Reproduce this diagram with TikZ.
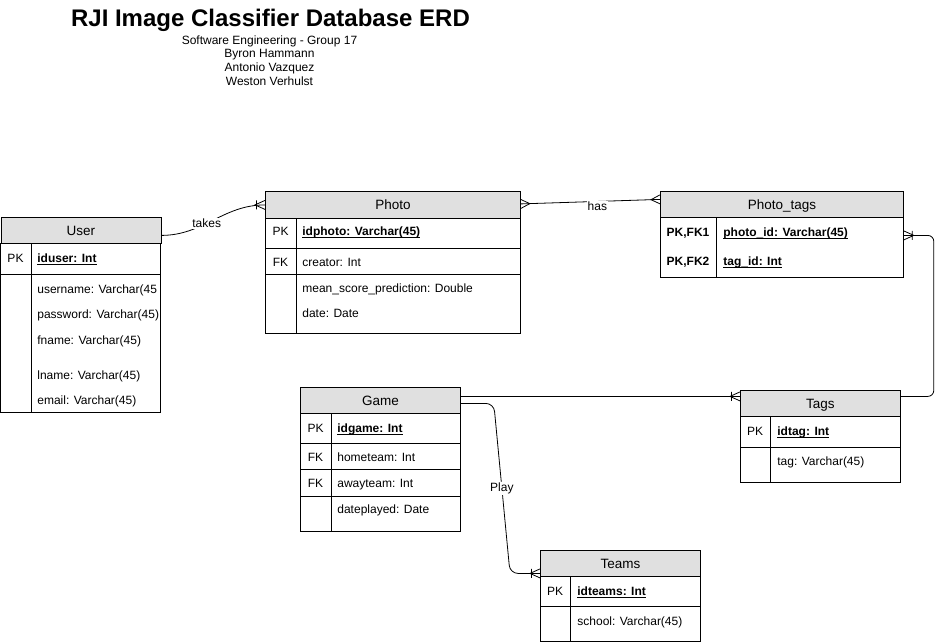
\documentclass[tikz,border=0pt]{standalone}
\usepackage{fontspec}
\setmainfont{Liberation Sans}

\definecolor{headgray}{RGB}{224,224,224}
\def\fs{\fontsize{12}{14}\selectfont}
\def\ul#1{\underline{\smash{#1}}}

% crow's foot ends of the relations
\pgfdeclarearrow{
  name = Crow,
  setup code = {
    \pgfarrowssettipend{0pt}
    \pgfarrowssetlineend{0pt}
    \pgfarrowssetbackend{-9pt}
    \pgfarrowsupperhullpoint{0pt}{4.5pt}
    \pgfarrowsupperhullpoint{-9pt}{0pt}
  },
  drawing code = {
    \pgfpathmoveto{\pgfpoint{0pt}{4.5pt}}
    \pgfpathlineto{\pgfpoint{-9pt}{0pt}}
    \pgfpathlineto{\pgfpoint{0pt}{-4.5pt}}
    \pgfusepathqstroke
  }
}
\pgfdeclarearrow{
  name = CrowOne,
  setup code = {
    \pgfarrowssettipend{0pt}
    \pgfarrowssetlineend{0pt}
    \pgfarrowssetbackend{-10pt}
    \pgfarrowsupperhullpoint{0pt}{4.5pt}
    \pgfarrowsupperhullpoint{-10pt}{4.5pt}
  },
  drawing code = {
    \pgfpathmoveto{\pgfpoint{0pt}{4.5pt}}
    \pgfpathlineto{\pgfpoint{-10pt}{0pt}}
    \pgfpathlineto{\pgfpoint{0pt}{-4.5pt}}
    \pgfpathmoveto{\pgfpoint{-8.5pt}{4.5pt}}
    \pgfpathlineto{\pgfpoint{-8.5pt}{-4.5pt}}
    \pgfusepathqstroke
  }
}

\begin{document}
\begin{tikzpicture}[x=1pt,y=-1pt,line width=0.8pt,
  head/.style={draw,fill=headgray,anchor=north west,minimum height=26pt,inner sep=0pt,text height=9.5pt,text depth=0pt,font=\fontsize{13.5}{16}\selectfont},
  key/.style={inner sep=0pt,text height=9pt,text depth=0pt,font=\fs},
  field/.style={anchor=west,inner sep=0pt,text height=9pt,text depth=0pt,font=\fs},
  pkfield/.style={field,font=\fs\bfseries},
  rel/.style={draw},
  lbl/.style={fill=white,inner sep=1pt,font=\fs}]
  \useasboundingbox (0,0) rectangle (942,643);

  \node[font=\fontsize{24}{28}\selectfont\bfseries] (title) at (270.5,20) {RJI Image Classifier Database ERD};
  \node[font=\fontsize{12}{13.7}\selectfont,align=center] (group) at (269.5,60.5) {Software Engineering - Group 17\\Byron Hammann\\Antonio Vazquez\\Weston Verhulst};

  % User
  \node[head,minimum width=160pt] (user) at (0.5,217) {User};
  \draw (user.south west) rectangle (160.5,412) (31,243) -- (31,412) (0.5,274) -- (160.5,274);
  \node[key] (user pk) at (15.5,258) {PK};
  \node[pkfield] (user id) at (37,258) {\ul{iduser: Int}};
  \node[field] (user name) at (37,289) {username: Varchar(45};
  \node[field] (user pass) at (37,314) {password: Varchar(45)};
  \node[field] (user fname) at (37,340) {fname: Varchar(45)};
  \node[field] (user lname) at (37,375) {lname: Varchar(45)};
  \node[field] (user mail) at (37,400) {email: Varchar(45)};

  % Photo
  \node[head,minimum width=255pt,minimum height=27pt] (photo) at (265,191) {Photo};
  \draw (photo.south west) rectangle (520,333) (296,218) -- (296,333) (265,248) -- (520,248) (265,274) -- (520,274);
  \node[key] (photo pk) at (280.5,231) {PK};
  \node[key] (photo fk) at (280.5,262) {FK};
  \node[pkfield] (photo id) at (302,231) {\ul{idphoto: Varchar(45)}};
  \node[field] (photo creator) at (302,262) {creator: Int};
  \node[field] (photo score) at (302,288) {mean\_score\_prediction: Double};
  \node[field] (photo date) at (302,313) {date: Date};

  % Photo_tags
  \node[head,minimum width=243pt] (ptags) at (660,191) {Photo\_tags};
  \draw (ptags.south west) rectangle (903,277) (716,217) -- (716,277);
  \node[key,font=\fs\bfseries] (ptags k1) at (688,232) {PK,FK1};
  \node[key,font=\fs\bfseries] (ptags k2) at (688,261) {PK,FK2};
  \node[pkfield] (ptags photo) at (723,232) {\ul{photo\_id: Varchar(45)}};
  \node[pkfield] (ptags tag) at (723,261) {\ul{tag\_id: Int}};

  % Game
  \node[head,minimum width=160pt] (game) at (300,387) {Game};
  \draw (game.south west) rectangle (460,531) (331,413) -- (331,531) (300,443) -- (460,443) (300,469) -- (460,469) (300,496) -- (460,496);
  \node[key] (game pk) at (315.5,428) {PK};
  \node[key] (game fk1) at (315.5,457) {FK};
  \node[key] (game fk2) at (315.5,483) {FK};
  \node[pkfield] (game id) at (337,428) {\ul{idgame: Int}};
  \node[field] (game home) at (337,457) {hometeam: Int};
  \node[field] (game away) at (337,483) {awayteam: Int};
  \node[field] (game date) at (337,509) {dateplayed: Date};

  % Tags
  \node[head,minimum width=160pt] (tags) at (740,390) {Tags};
  \draw (tags.south west) rectangle (900,482) (770,416) -- (770,482) (740,447) -- (900,447);
  \node[key] (tags pk) at (755,431) {PK};
  \node[pkfield] (tags id) at (777,431) {\ul{idtag: Int}};
  \node[field] (tags tag) at (777,461) {tag: Varchar(45)};

  % Teams
  \node[head,minimum width=160pt] (teams) at (540,550) {Teams};
  \draw (teams.south west) rectangle (700,641) (570,576) -- (570,641) (540,606) -- (700,606);
  \node[key] (teams pk) at (555,591) {PK};
  \node[pkfield] (teams id) at (577,591) {\ul{idteams: Int}};
  \node[field] (teams school) at (577,621) {school: Varchar(45)};

  % relations
  \draw[rel,-CrowOne] ([yshift=-5pt]user.east) to[out=0,in=180] node[lbl,pos=.43]{takes} (photo.west);
  \draw[rel,Crow-Crow] ([yshift=1pt]photo.east) -- node[lbl,pos=.55,yshift=-5pt]{has} ([yshift=5pt]ptags.west);
  \draw[rel,CrowOne-,rounded corners=6pt] ([yshift=-31pt]ptags.east) -- ++(30,0) |- ([yshift=7pt]tags.east);
  \draw[rel,-CrowOne] ([yshift=4pt]game.east) -- ([yshift=7pt]tags.west);
  \draw[rel,-CrowOne,rounded corners=8pt] ([yshift=-3pt]game.east) -- ++(33,0) -- node[lbl]{Play} ([xshift=-30pt,yshift=-10pt]teams.west) -- ([yshift=-10pt]teams.west);
\end{tikzpicture}
\end{document}
